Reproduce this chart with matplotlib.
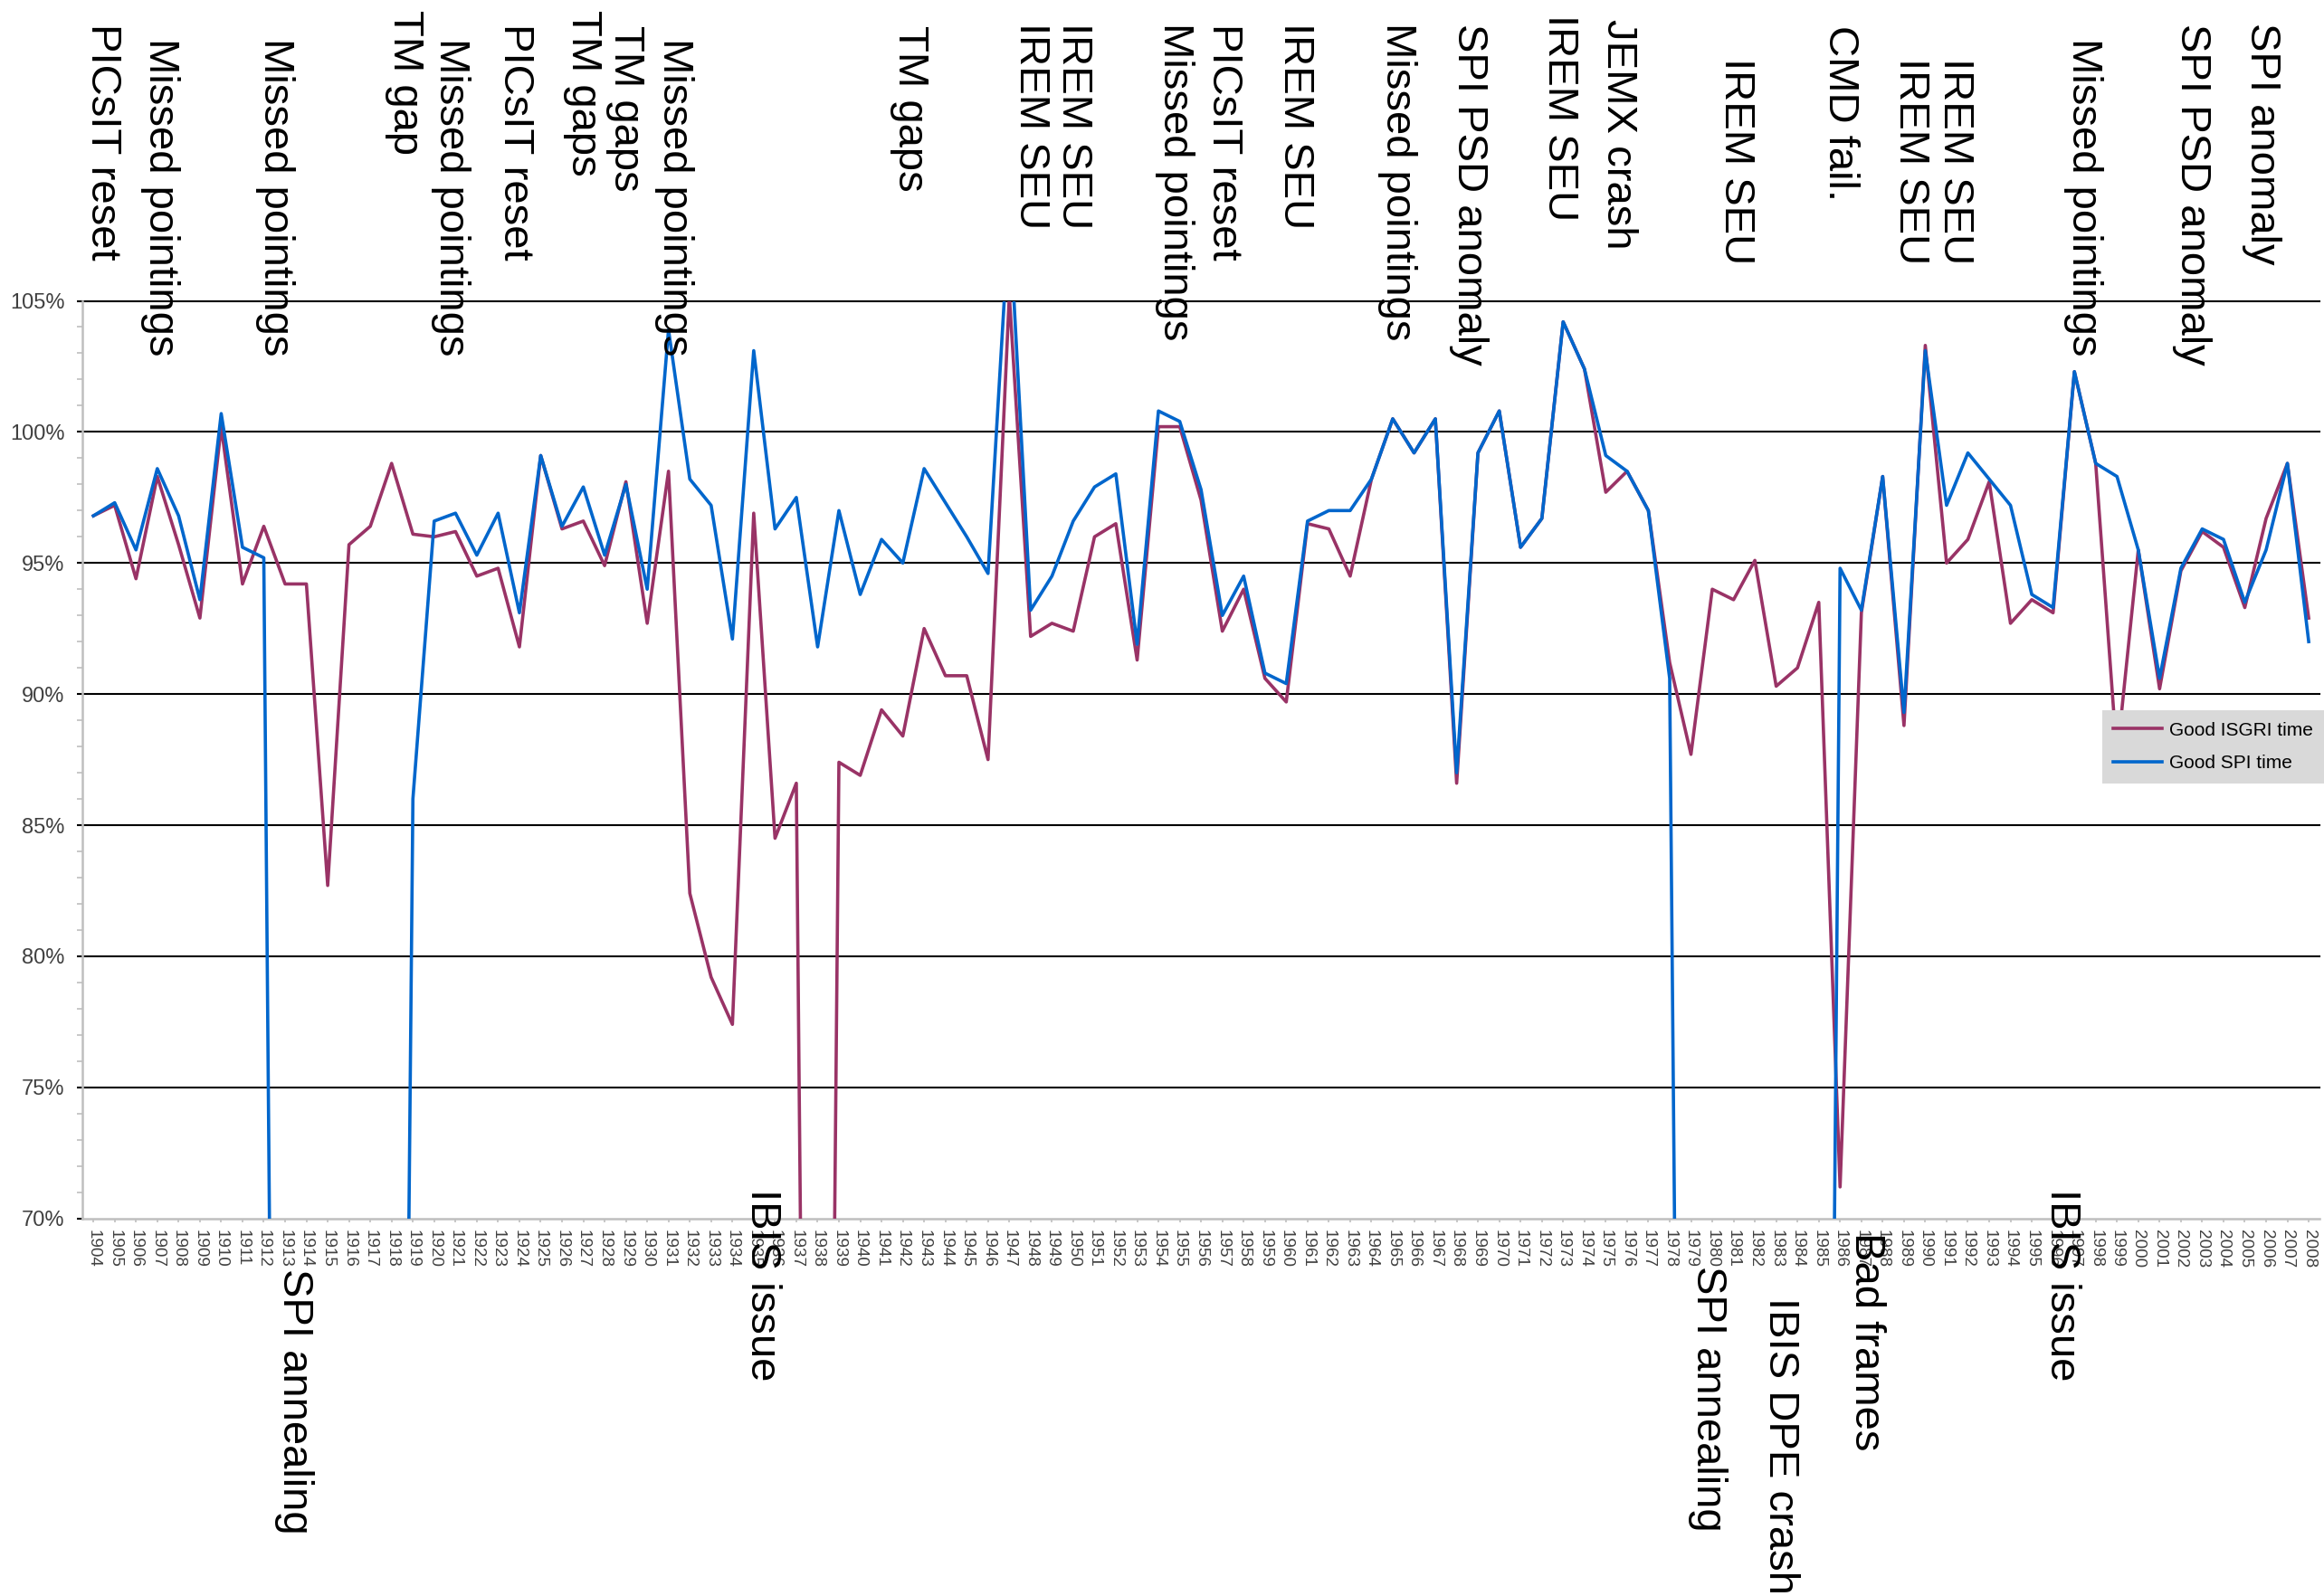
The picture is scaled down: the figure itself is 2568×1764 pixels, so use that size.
import matplotlib
matplotlib.use("Agg")
import matplotlib.pyplot as plt
import matplotlib.transforms as mtransforms
from matplotlib.ticker import FixedLocator, MultipleLocator, FuncFormatter
import numpy as np

plt.rcParams['font.family'] = ['Liberation Sans', 'DejaVu Sans']

years = list(range(1904, 2009))

isgri = [96.8, 97.2, 94.4, 98.3, 95.7, 92.9, 100.2, 94.2, 96.4, 94.2,
         94.2, 82.7, 95.7, 96.4, 98.8, 96.1, 96.0, 96.2, 94.5, 94.8,
         91.8, 99.1, 96.3, 96.6, 94.9, 98.1, 92.7, 98.5, 82.4, 79.2,
         77.4, 96.9, 84.5, 86.6, 0.0, 87.4, 86.9, 89.4, 88.4, 92.5,
         90.7, 90.7, 87.5, 105.2, 92.2, 92.7, 92.4, 96.0, 96.5, 91.3,
         100.2, 100.2, 97.4, 92.4, 94.0, 90.6, 89.7, 96.5, 96.3, 94.5,
         98.2, 100.5, 99.2, 100.5, 86.6, 99.2, 100.8, 95.6, 96.7, 104.2,
         102.4, 97.7, 98.5, 97.0, 91.2, 87.7, 94.0, 93.6, 95.1, 90.3,
         91.0, 93.5, 71.2, 93.1, 98.3, 88.8, 103.3, 95.0, 95.9, 98.1,
         92.7, 93.6, 93.1, 102.3, 98.8, 87.6, 95.5, 90.2, 94.7, 96.2,
         95.6, 93.3, 96.7, 98.8, 92.9]

spi = [96.8, 97.3, 95.5, 98.6, 96.8, 93.6, 100.7, 95.6, 95.2, 0.0,
       0.0, 0.0, 0.0, 0.0, 0.0, 86.0, 96.6, 96.9, 95.3, 96.9,
       93.1, 99.1, 96.4, 97.9, 95.3, 98.0, 94.0, 103.9, 98.2, 97.2,
       92.1, 103.1, 96.3, 97.5, 91.8, 97.0, 93.8, 95.9, 95.0, 98.6,
       97.3, 96.0, 94.6, 108.3, 93.2, 94.5, 96.6, 97.9, 98.4, 91.9,
       100.8, 100.4, 97.8, 93.0, 94.5, 90.8, 90.4, 96.6, 97.0, 97.0,
       98.2, 100.5, 99.2, 100.5, 87.0, 99.2, 100.8, 95.6, 96.7, 104.2,
       102.4, 99.1, 98.5, 97.0, 90.6, 0.0, 0.0, 0.0, 0.0, 0.0,
       0.0, 0.0, 94.8, 93.2, 98.3, 89.3, 103.1, 97.2, 99.2, 98.2,
       97.2, 93.8, 93.3, 102.3, 98.8, 98.3, 95.5, 90.6, 94.8, 96.3,
       95.9, 93.5, 95.5, 98.8, 92.0]

assert len(isgri) == len(years) and len(spi) == len(years)

# event notes: (position in category units, top of text in figure fraction, text)
top_notes = [
    (0.42, 0.985, "PICsIT reset"),
    (3.13, 0.976, "Missed pointings"),
    (8.53, 0.976, "Missed pointings"),
    (14.6, 0.994, "TM gap"),
    (16.77, 0.976, "Missed pointings"),
    (19.8, 0.985, "PICsIT reset"),
    (22.97, 0.994, "TM gaps"),
    (24.97, 0.984, "TM gaps"),
    (27.26, 0.976, "Missed pointings"),
    (38.3, 0.984, "TM gaps"),
    (44.0, 0.986, "IREM SEU"),
    (46.0, 0.986, "IREM SEU"),
    (50.76, 0.986, "Missed pointings"),
    (53.05, 0.985, "PICsIT reset"),
    (56.4, 0.986, "IREM SEU"),
    (61.2, 0.986, "Missed pointings"),
    (64.56, 0.985, "SPI PSD anomaly"),
    (68.8, 0.991, "IREM SEU"),
    (71.6, 0.988, "JEMX crash"),
    (77.1, 0.964, "IREM SEU"),
    (82.0, 0.984, "CMD fail."),
    (85.3, 0.964, "IREM SEU"),
    (87.4, 0.964, "IREM SEU"),
    (93.4, 0.976, "Missed pointings"),
    (98.5, 0.985, "SPI PSD anomaly"),
    (101.8, 0.986, "SPI anomaly"),
]
bottom_notes = [
    (9.42, 0.205, "SPI annealing"),
    (31.4, 0.255, "IBIS issue"),
    (75.8, 0.207, "SPI annealing"),
    (79.2, 0.187, "IBIS DPE crash"),
    (83.2, 0.228, "Bad frames"),
    (92.4, 0.255, "IBIS issue"),
]

fig = plt.figure(figsize=(12.84, 8.82), dpi=200)
ax = fig.add_axes([0.0356, 0.2366, 0.9624, 0.5749])

x = np.arange(len(years))
ax.plot(x, isgri, color="#993366", lw=1.3, label="Good ISGRI time", zorder=3)
ax.plot(x, spi, color="#0066CC", lw=1.3, label="Good SPI time", zorder=4)

ax.set_xlim(-0.5, len(years) - 0.5)
ax.set_ylim(70, 105)

for v in range(75, 106, 5):
    ax.axhline(v, color="black", lw=0.75, zorder=1, clip_on=False)

ax.yaxis.set_major_locator(MultipleLocator(5))
ax.yaxis.set_minor_locator(MultipleLocator(1))
ax.yaxis.set_major_formatter(FuncFormatter(lambda v, p: f"{v:.0f}%"))
ax.tick_params(axis="y", which="major", length=2.2, width=0.75, color="black",
               labelsize=8.5, labelcolor="#404040", pad=5)
ax.tick_params(axis="y", which="minor", length=2.0, width=0.6, color="#BFBFBF")

ax.xaxis.set_major_locator(FixedLocator(x))
ax.set_xticklabels([str(y) for y in years], rotation=270, fontsize=6.8,
                   color="#404040")
ax.tick_params(axis="x", which="major", length=1.6, width=0.6,
               color="#BFBFBF", pad=3)

for s in ["top", "right"]:
    ax.spines[s].set_visible(False)
for s in ["left", "bottom"]:
    ax.spines[s].set_color("#BFBFBF")
    ax.spines[s].set_linewidth(0.9)

trans = mtransforms.blended_transform_factory(ax.transData, fig.transFigure)
for pos, ytop, txt in top_notes + bottom_notes:
    ax.text(pos, ytop, txt, transform=trans, rotation=270, ha="center",
            va="top", fontsize=17, color="black", clip_on=False, zorder=6)

leg = ax.legend(loc="upper right", bbox_to_anchor=(1.0, 1 - 785 / 1764),
                bbox_transform=fig.transFigure, fontsize=7.5, frameon=True,
                fancybox=False, facecolor="#D9D9D9", edgecolor="none",
                framealpha=1, borderaxespad=0, borderpad=0.6,
                handlelength=2.6, handletextpad=0.35, labelspacing=0.85)
leg.set_zorder(7)

fig.savefig("out.png", dpi=200)
